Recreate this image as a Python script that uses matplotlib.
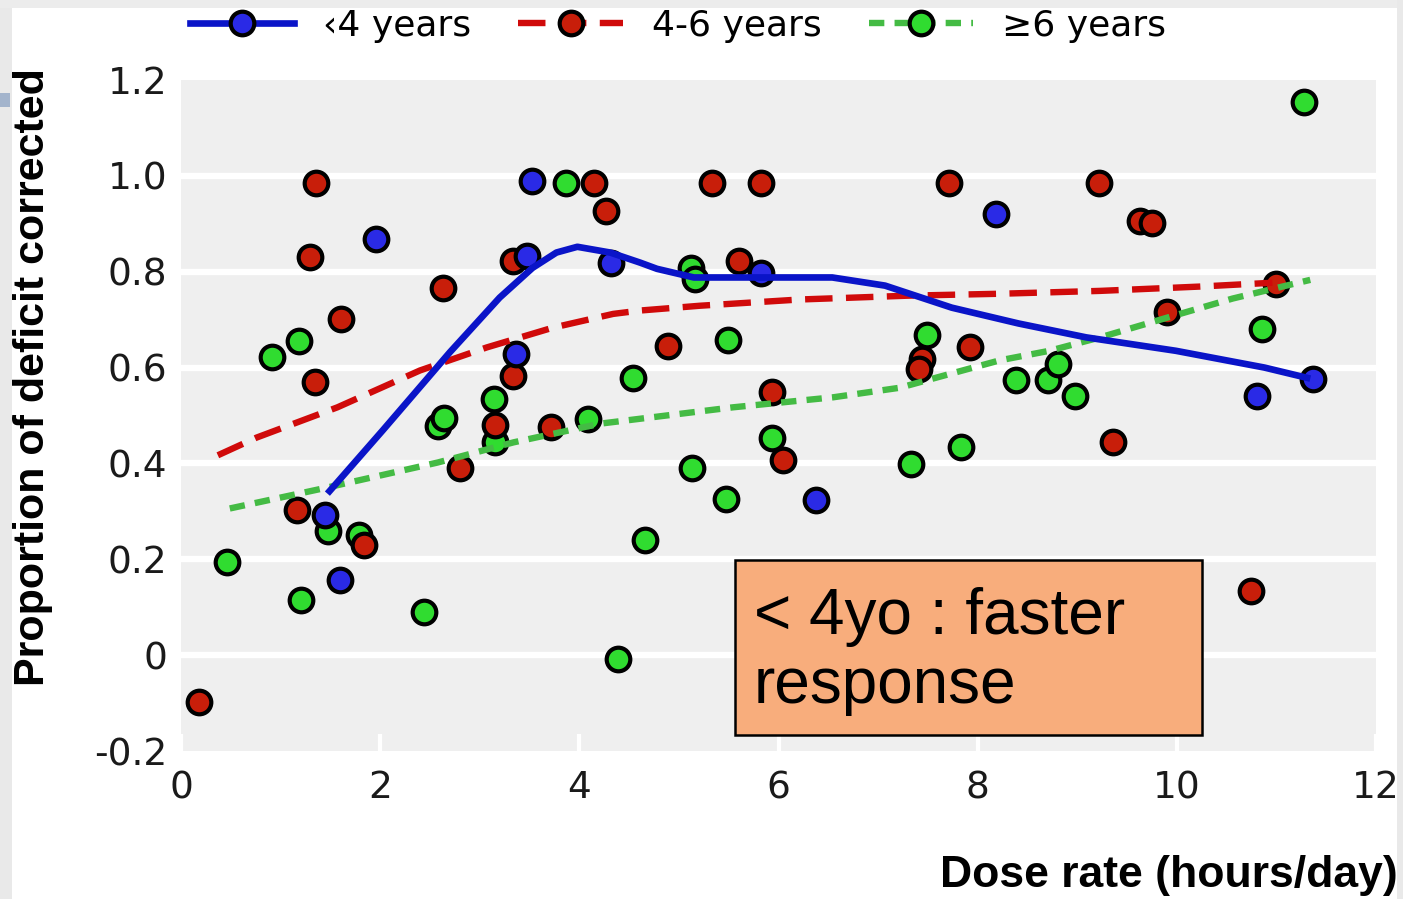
import matplotlib
matplotlib.use('Agg')
import matplotlib.pyplot as plt
from matplotlib.lines import Line2D
from matplotlib.patches import Rectangle

plt.rcParams['font.family'] = ['DejaVu Sans']

# ---- data ----
blue_x = [3.52, 1.96, 3.47, 4.32, 3.36, 1.45, 1.60, 5.82, 6.38, 8.18, 10.81, 11.37]
blue_y = [0.99, 0.869, 0.833, 0.819, 0.629, 0.292, 0.156, 0.798, 0.323, 0.921, 0.54, 0.577]

red_x = [0.18, 1.36, 1.30, 1.61, 1.35, 1.16, 1.84, 2.63, 2.80, 3.33, 3.33, 3.15, 3.72, 4.15, 4.27, 4.89,
         5.33, 5.60, 5.82, 5.93, 6.05, 7.44, 7.41, 7.71, 7.92, 9.22, 9.36, 9.63, 9.75, 9.90, 10.74, 11.00]
red_y = [-0.098, 0.985, 0.831, 0.702, 0.569, 0.302, 0.229, 0.767, 0.39, 0.823, 0.583, 0.48, 0.475, 0.985, 0.927, 0.646,
         0.985, 0.823, 0.985, 0.548, 0.408, 0.617, 0.596, 0.985, 0.642, 0.985, 0.444, 0.906, 0.902, 0.715, 0.133, 0.775]

green_x = [0.46, 0.91, 1.18, 1.20, 1.48, 1.79, 2.44, 2.58, 2.64, 3.14, 3.15, 3.87, 4.09, 4.39, 4.54, 4.66,
           5.12, 5.16, 5.13, 5.47, 5.49, 5.93, 7.33, 7.49, 7.83, 8.38, 8.71, 8.81, 8.98, 10.86, 11.28]
green_y = [0.194, 0.623, 0.656, 0.115, 0.26, 0.25, 0.09, 0.479, 0.494, 0.535, 0.444, 0.985, 0.492, -0.008, 0.579, 0.24,
           0.808, 0.785, 0.39, 0.325, 0.658, 0.454, 0.398, 0.669, 0.435, 0.575, 0.575, 0.608, 0.54, 0.681, 1.154]

# smoothed trend lines
blue_fit_x = [1.47, 2.03, 2.70, 3.20, 3.53, 3.77, 3.98, 4.31, 4.61, 4.78, 5.15, 6.54, 7.07, 7.74, 8.41, 9.09, 9.99, 10.88, 11.34]
blue_fit_y = [0.337, 0.47, 0.632, 0.746, 0.808, 0.84, 0.852, 0.84, 0.819, 0.806, 0.788, 0.788, 0.771, 0.725, 0.692, 0.663, 0.635, 0.60, 0.577]

red_fit_x = [0.37, 0.76, 1.57, 2.4, 3.07, 3.73, 4.34, 4.61, 5.21, 6.21, 7.3, 8.22, 9.23, 10.23, 10.96]
red_fit_y = [0.417, 0.454, 0.517, 0.594, 0.642, 0.683, 0.712, 0.719, 0.729, 0.742, 0.75, 0.754, 0.76, 0.769, 0.777]

green_fit_x = [0.49, 1.43, 2.58, 3.34, 4.21, 5.54, 6.55, 7.22, 7.55, 8.22, 8.72, 9.23, 9.9, 10.56, 11.34]
green_fit_y = [0.306, 0.348, 0.402, 0.444, 0.483, 0.517, 0.538, 0.558, 0.577, 0.615, 0.635, 0.663, 0.704, 0.744, 0.783]

labels = ['\u20394 years', '4-6 years', '\u22656 years']
x_ticks = [0, 2, 4, 6, 8, 10, 12]
y_ticks = [-0.2, 0, 0.2, 0.4, 0.6, 0.8, 1.0, 1.2]
y_tick_labels = ['-0.2', '0', '0.2', '0.4', '0.6', '0.8', '1.0', '1.2']

# colours
blue_line, blue_mark = '#0a14c8', '#2a2ae6'
red_line, red_mark = '#d00a0a', '#c81e0a'
green_line, green_mark = '#44bb44', '#30dc30'

fig = plt.figure(figsize=(14.03, 8.99), dpi=100)

# light page borders like the screenshot
fig.patches.append(Rectangle((0, 0), 12 / 1403, 1, transform=fig.transFigure, fc='#e9e9e9', ec='none', zorder=0))
fig.patches.append(Rectangle((0, 1 - 8 / 899), 1, 8 / 899, transform=fig.transFigure, fc='#ececec', ec='none', zorder=0))
fig.patches.append(Rectangle((1 - 6 / 1403, 0), 6 / 1403, 1, transform=fig.transFigure, fc='#e9e9e9', ec='none', zorder=0))
fig.patches.append(Rectangle((0, 1 - 107 / 899), 10 / 1403, 14 / 899, transform=fig.transFigure, fc='#a3b4cc', ec='none', zorder=1))

ax = fig.add_axes([181 / 1403, 1 - 751 / 899, 1195 / 1403, 671 / 899])
ax.set_facecolor('#efefef')
for s in ax.spines.values():
    s.set_visible(False)

ax.set_xlim(0, 12)
ax.set_ylim(-0.2, 1.2)

for yv in y_ticks[1:-1]:
    ax.axhline(yv, color='white', lw=4.5, zorder=1)

mk = dict(linestyle='none', marker='o', markersize=17, markeredgecolor='black', markeredgewidth=3, zorder=3)
ax.plot(green_x, green_y, markerfacecolor=green_mark, **mk)
ax.plot(red_x, red_y, markerfacecolor=red_mark, **mk)
ax.plot(blue_x, blue_y, markerfacecolor=blue_mark, **mk)

ax.plot(red_fit_x, red_fit_y, color=red_line, lw=4.6, dashes=(4.3, 2.1), dash_capstyle='butt', zorder=4)
ax.plot(green_fit_x, green_fit_y, color=green_line, lw=4.6, dashes=(2.4, 1.6), dash_capstyle='butt', zorder=4)
ax.plot(blue_fit_x, blue_fit_y, color=blue_line, lw=4.8, solid_capstyle='butt', solid_joinstyle='round', zorder=4)

ax.set_xticks(x_ticks)
ax.set_yticks(y_ticks)
ax.set_yticklabels(y_tick_labels)
ax.tick_params(axis='x', direction='in', color='white', length=12, width=3, pad=14, labelsize=27, labelcolor='#1a1a1a')
ax.tick_params(axis='y', length=0, pad=10, labelsize=27, labelcolor='#1a1a1a')
ax.get_yticklabels()[0].set_y(-0.18)

# annotation box
ax.add_patch(Rectangle((5.56, -0.167), 4.69, 0.365, facecolor='#f8ad7c', edgecolor='black', lw=1.8, zorder=5))
ax.text(5.75, 0.008, '< 4yo : faster\nresponse', family=['Liberation Sans', 'DejaVu Sans'], fontsize=46,
        ha='left', va='center', linespacing=1.2, zorder=6)

# axis titles
fig.text(33 / 1403, 1 - 377 / 899, 'Proportion of deficit corrected', rotation=90, ha='center', va='center',
         fontsize=31, fontweight='bold', family=['Liberation Sans', 'DejaVu Sans'])
fig.text(1398 / 1403, 1 - 875 / 899, 'Dose rate (hours/day)', ha='right', va='center',
         fontsize=32, fontweight='bold', family=['Liberation Sans', 'DejaVu Sans'])

# legend on top
handles = [
    Line2D([], [], color=blue_line, lw=4.8, marker='o', markersize=17, markerfacecolor=blue_mark,
           markeredgecolor='black', markeredgewidth=3),
    Line2D([], [], color=red_line, lw=4.6, dashes=(4.3, 2.1), marker='o', markersize=17, markerfacecolor=red_mark,
           markeredgecolor='black', markeredgewidth=3),
    Line2D([], [], color=green_line, lw=4.6, dashes=(2.4, 1.6), marker='o', markersize=17, markerfacecolor=green_mark,
           markeredgecolor='black', markeredgewidth=3),
]
fig.legend(handles, labels, loc='center', bbox_to_anchor=(678 / 1403, 1 - 26 / 899), ncol=3, frameon=False,
           fontsize=26, handlelength=2.9, handletextpad=0.8, columnspacing=1.3, numpoints=1,
           borderpad=0, borderaxespad=0)

fig.savefig('out.png', dpi=100)
